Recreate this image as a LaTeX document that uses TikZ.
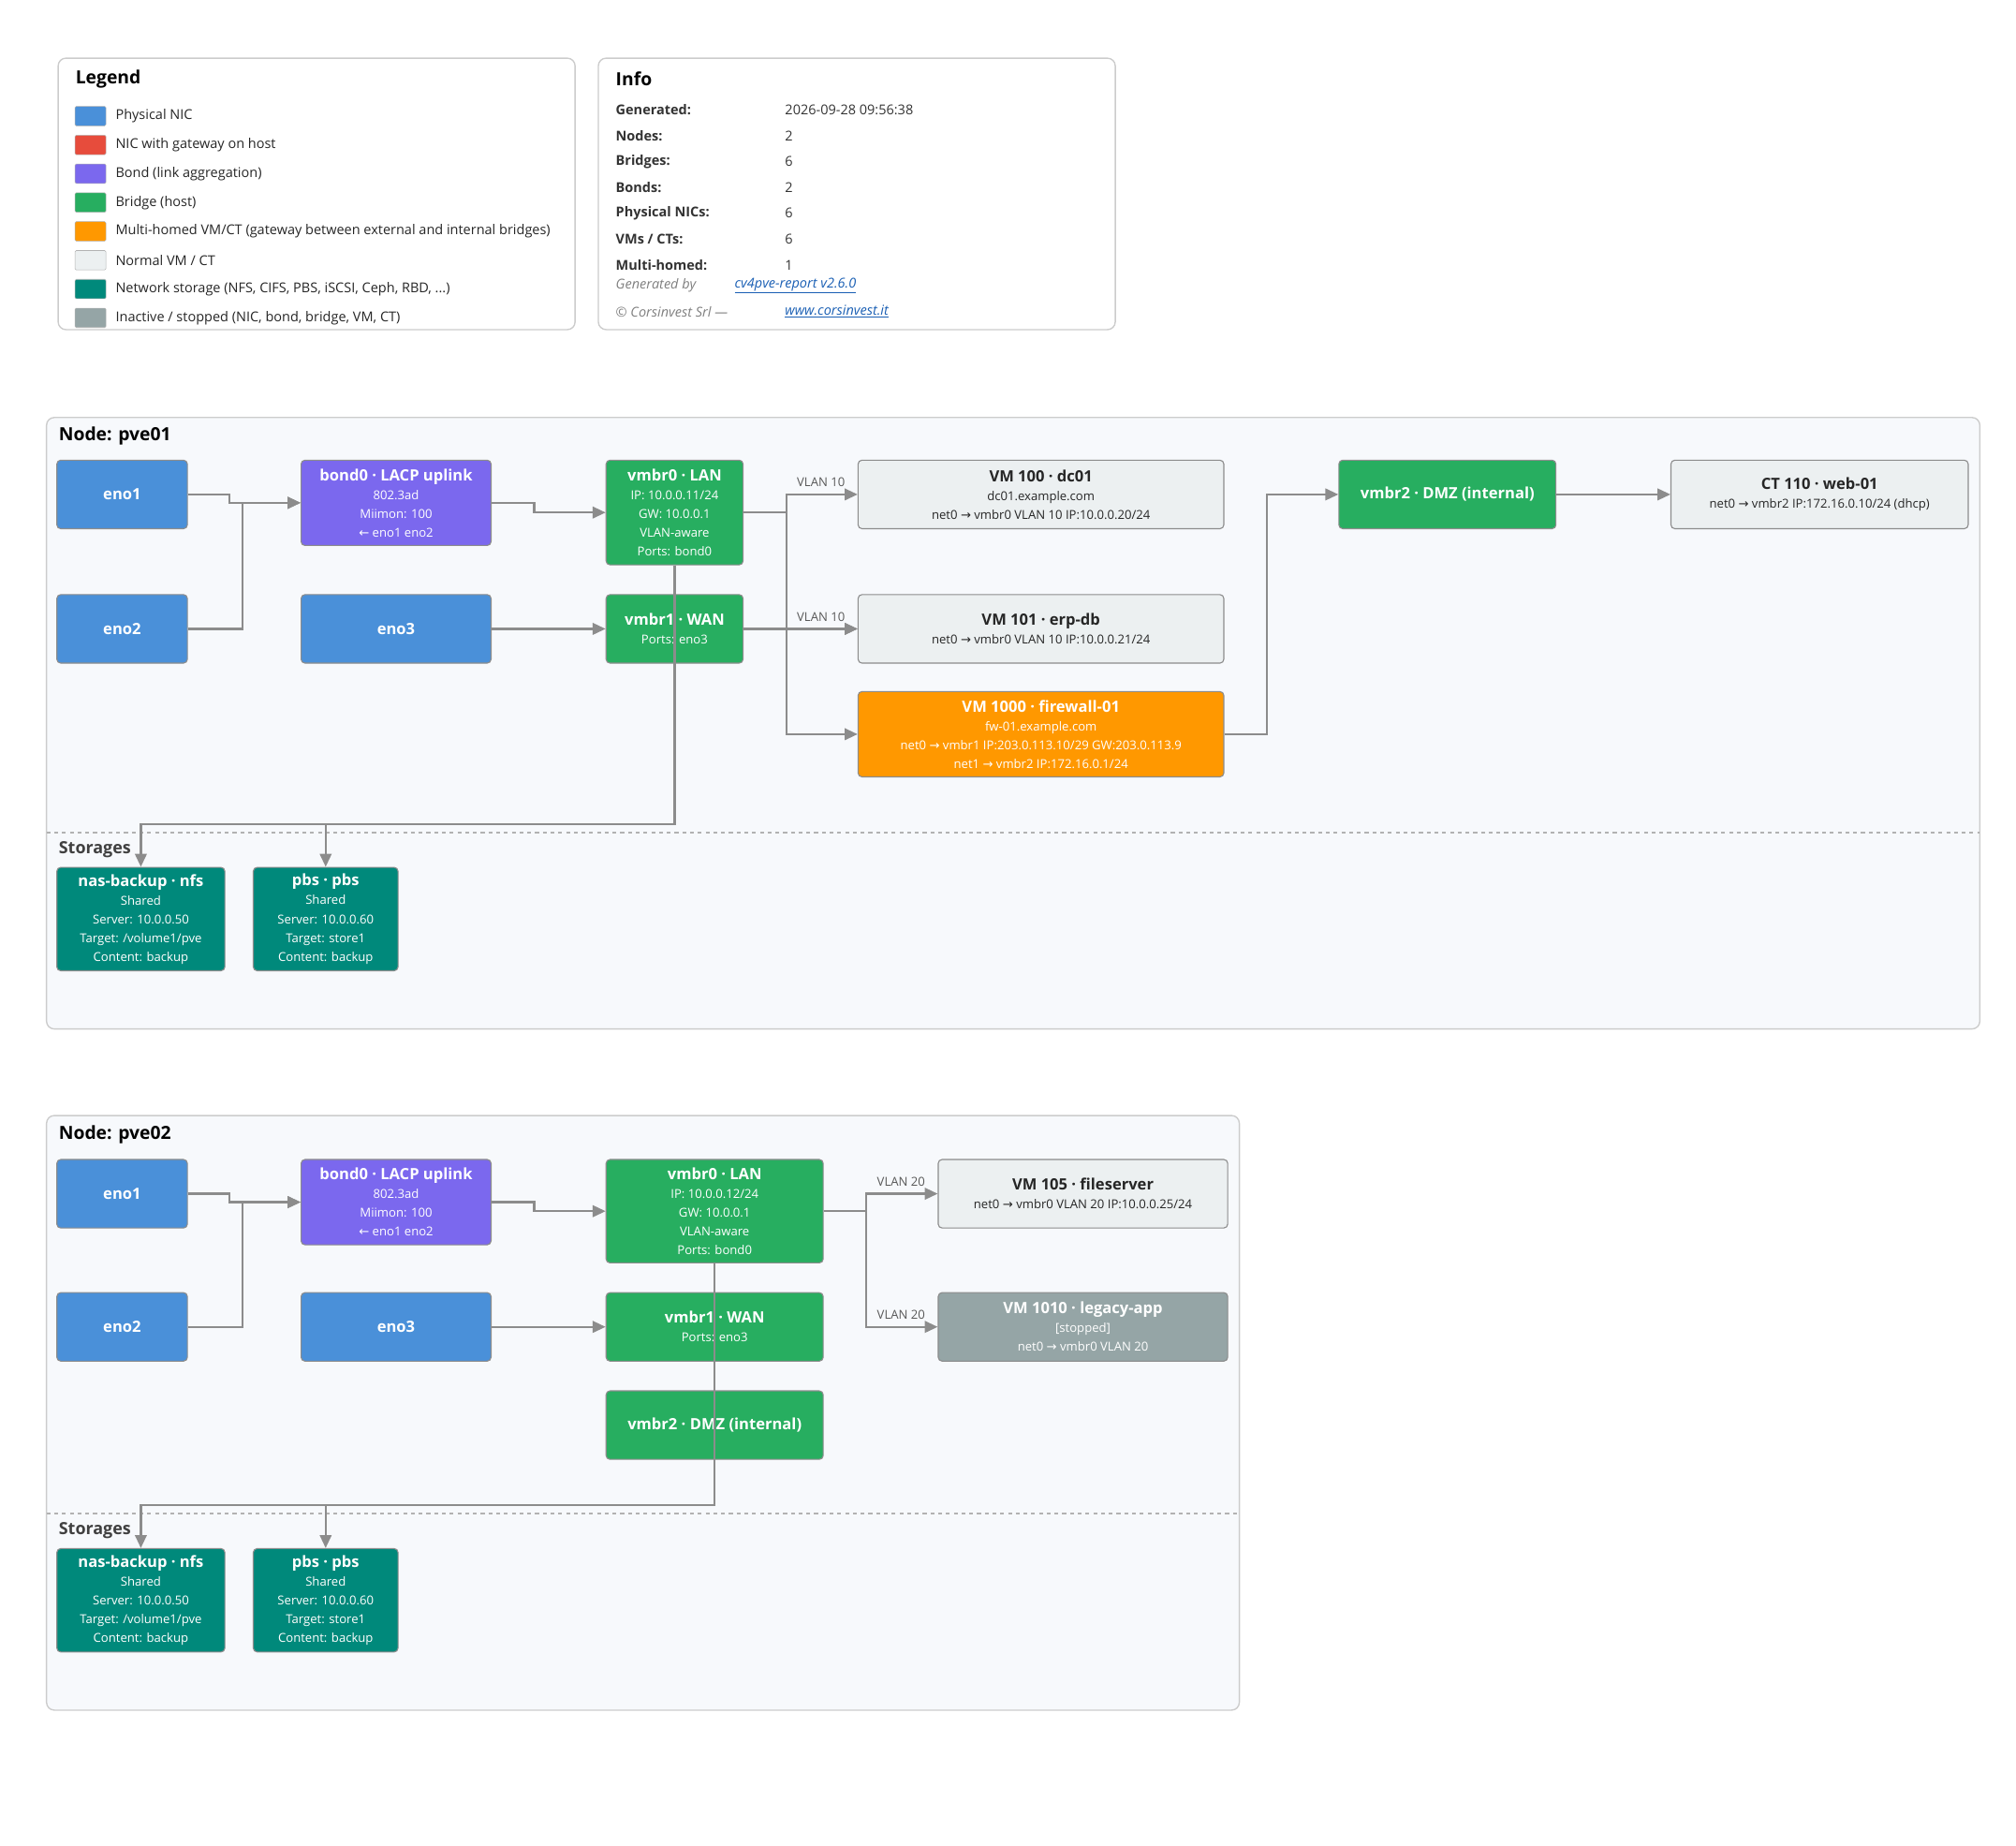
\documentclass[tikz,border=0pt]{standalone}
\usepackage{fontspec}
\setmainfont{Open Sans}
\newfontfamily\symfont{DejaVu Sans}
\usetikzlibrary{arrows.meta}
\definecolor{nicblue}{HTML}{4A90D9}
\definecolor{gwred}{HTML}{E74C3C}
\definecolor{bondpurple}{HTML}{7B68EE}
\definecolor{brgreen}{HTML}{27AE60}
\definecolor{multiorange}{HTML}{FF9800}
\definecolor{vmlight}{HTML}{ECF0F1}
\definecolor{storteal}{HTML}{00897B}
\definecolor{offgray}{HTML}{95A5A6}
\definecolor{panelbg}{HTML}{F7F9FC}
\definecolor{linkblue}{HTML}{1A5FB4}
\newcommand{\boxtitle}{\fontsize{12}{14.5}\selectfont\bfseries}
\newcommand{\boxsmall}{\fontsize{9.5}{14.5}\selectfont\mdseries}
\newcommand{\ra}{{\symfont →}}
\newcommand{\la}{{\symfont ←}}
\tikzset{
	box/.style={rectangle, rounded corners=3pt, draw=black!45, line width=0.8pt, align=center, inner sep=2pt, text=white, font=\fontsize{9.5}{14.5}\selectfont},
	nic/.style={box, fill=nicblue, minimum width=101, minimum height=53},
	bond/.style={box, fill=bondpurple, minimum width=147, minimum height=66},
	bridge/.style={box, fill=brgreen},
	vm/.style={box, fill=vmlight, text=black!85},
	multi/.style={box, fill=multiorange},
	stopped/.style={box, fill=offgray},
	store/.style={box, fill=storteal, minimum height=80},
	panel/.style={rounded corners=6pt, draw=black!20, line width=1pt, fill=panelbg},
	card/.style={rounded corners=6pt, draw=black!20, line width=1pt, fill=white},
	link/.style={draw=black!45, line width=1.6pt, -{Triangle[length=10pt,width=9pt]}},
	vlan/.style={font=\fontsize{9.5}{12}\selectfont, text=black!65, anchor=south east, inner sep=1pt, xshift=-8pt, yshift=4pt},
	swatch/.style={rounded corners=1pt, draw=black!30, minimum width=24, minimum height=15, inner sep=0pt},
}
\begin{document}
\begin{tikzpicture}[x=1pt, y=-1pt]
	\useasboundingbox (0,0) rectangle (1560,1428);
	
	% legend
	\draw[card] (45,45) rectangle (445,255);
	\node[anchor=west, font=\fontsize{14}{16}\selectfont\bfseries] (legtitle) at (55,61) {Legend};
	\foreach \col/\txt [count=\i] in {nicblue/{Physical NIC}, gwred/{NIC with gateway on host}, bondpurple/{Bond (link aggregation)}, brgreen/{Bridge (host)}, multiorange/{Multi-homed VM/CT (gateway between external and internal bridges)}, vmlight/{Normal VM / CT}, storteal/{Network storage (NFS, CIFS, PBS, iSCSI, Ceph, RBD, ...)}, offgray/{Inactive / stopped (NIC, bond, bridge, VM, CT)}} {
		\node[swatch, fill=\col] (sw\i) at (70,67.5+22.3*\i) {};
		\node[anchor=west, font=\fontsize{10.5}{13}\selectfont, text=black!85] (lt\i) at (86,67.5+22.3*\i) {\txt};
	}
	
	% info
	\draw[card] (463,45) rectangle (863,255);
	\node[anchor=west, font=\fontsize{14}{16}\selectfont\bfseries] (infotitle) at (473,61) {Info};
	\foreach \lab/\val [count=\i] in {{Generated:}/{2026-09-28 09:56:38}, {Nodes:}/2, {Bridges:}/6, {Bonds:}/2, {Physical NICs:}/6, {VMs / CTs:}/6, {Multi-homed:}/1} {
		\node[anchor=west, font=\fontsize{10.5}{13}\selectfont\bfseries, text=black!80] (il\i) at (473,65+20*\i) {\lab};
		\node[anchor=west, font=\fontsize{10.5}{13}\selectfont, text=black!80] (iv\i) at (604,65+20*\i) {\val};
	}
	\node[anchor=west, font=\fontsize{10.5}{13}\selectfont\itshape, text=black!50] (genby) at (473,221) {Generated by};
	\node[anchor=west, font=\fontsize{10.5}{13}\selectfont\itshape, text=linkblue] (genlink) at (565,221) {\underline{cv4pve-report v2.6.0}};
	\node[anchor=west, font=\fontsize{10.5}{13}\selectfont\itshape, text=black!50] (copy) at (473,241) {© Corsinvest Srl —};
	\node[anchor=west, font=\fontsize{10.5}{13}\selectfont\itshape, text=linkblue] (weblink) at (604,241) {\underline{www.corsinvest.it}};
	
	% node pve01
	\draw[panel] (36,323) rectangle (1532,796);
	\node[anchor=west, font=\fontsize{14}{16}\selectfont\bfseries] (pveA) at (42,337) {Node: pve01};
	\draw[black!30, dashed, line width=1pt] (36,644) -- (1532,644);
	\node[anchor=west, font=\fontsize{13}{15}\selectfont\bfseries, text=black!75] (storA) at (42,657) {Storages};
	
	\node[nic] (eno1a) at (94.5,382.5) {\boxtitle eno1};
	\node[nic] (eno2a) at (94.5,486.5) {\boxtitle eno2};
	\node[bond] (bond0a) at (306.5,389) {\boxtitle bond0 · LACP uplink\\\boxsmall 802.3ad\\\boxsmall Miimon: 100\\\boxsmall \la{} eno1 eno2};
	\node[nic, minimum width=147] (eno3a) at (306.5,486.5) {\boxtitle eno3};
	\node[bridge, minimum width=106, minimum height=81] (vmbr0a) at (522,396.5) {\boxtitle vmbr0 · LAN\\\boxsmall IP: 10.0.0.11/24\\\boxsmall GW: 10.0.0.1\\\boxsmall VLAN-aware\\\boxsmall Ports: bond0};
	\node[bridge, minimum width=106, minimum height=53] (vmbr1a) at (522,486.5) {\boxtitle vmbr1 · WAN\\\boxsmall Ports: eno3};
	\node[vm, minimum width=283, minimum height=53] (vm100) at (805.5,382.5) {\boxtitle VM 100 · dc01\\\boxsmall dc01.example.com\\\boxsmall net0 \ra{} vmbr0 VLAN 10 IP:10.0.0.20/24};
	\node[vm, minimum width=283, minimum height=53] (vm101) at (805.5,486.5) {\boxtitle VM 101 · erp-db\\\boxsmall net0 \ra{} vmbr0 VLAN 10 IP:10.0.0.21/24};
	\node[multi, minimum width=283, minimum height=66] (vm1000) at (805.5,568) {\boxtitle VM 1000 · firewall-01\\\boxsmall fw-01.example.com\\\boxsmall net0 \ra{} vmbr1 IP:203.0.113.10/29 GW:203.0.113.9\\\boxsmall net1 \ra{} vmbr2 IP:172.16.0.1/24};
	\node[bridge, minimum width=168, minimum height=53] (vmbr2a) at (1120,382.5) {\boxtitle vmbr2 · DMZ (internal)};
	\node[vm, minimum width=230, minimum height=53] (ct110) at (1408,382.5) {\boxtitle CT 110 · web-01\\\boxsmall net0 \ra{} vmbr2 IP:172.16.0.10/24 (dhcp)};
	\node[store, minimum width=130] (nasa) at (109,711) {\boxtitle nas-backup · nfs\\\boxsmall Shared\\\boxsmall Server: 10.0.0.50\\\boxsmall Target: /volume1/pve\\\boxsmall Content: backup};
	\node[store, minimum width=112] (pbsa) at (252,711) {\boxtitle pbs · pbs\\\boxsmall Shared\\\boxsmall Server: 10.0.0.60\\\boxsmall Target: store1\\\boxsmall Content: backup};
	
	\draw[link] (eno1a.east) -- ++(32,0) |- (bond0a.west);
	\draw[link] (eno2a.east) -- ++(42,0) |- (bond0a.west);
	\draw[link] (bond0a.east) -- ++(33,0) |- (vmbr0a.west);
	\draw[link] (eno3a) -- (vmbr1a);
	\draw[link] (vmbr0a.east) -- ++(33,0) |- (vm100.west) node[vlan] {VLAN 10};
	\draw[link] (vmbr0a.east) -- ++(33,0) |- (vm101.west);
	\draw[link] (vmbr1a.east) -- (vm101.west) node[vlan] {VLAN 10};
	\draw[link] (vmbr1a.east) -- ++(33,0) |- (vm1000.west);
	\draw[link] (vm1000.east) -- ++(33,0) |- (vmbr2a.west);
	\draw[link] (vmbr2a) -- (ct110);
	\draw[link] (vmbr0a.south) -- ++(0,200) -| (nasa.north);
	\draw[link] (vmbr0a.south) -- ++(0,200) -| (pbsa.north);
	
	% node pve02
	\draw[panel] (36,863) rectangle (959,1323);
	\node[anchor=west, font=\fontsize{14}{16}\selectfont\bfseries] (pveB) at (42,878) {Node: pve02};
	\draw[black!30, dashed, line width=1pt] (36,1171) -- (959,1171);
	\node[anchor=west, font=\fontsize{13}{15}\selectfont\bfseries, text=black!75] (storB) at (42,1184) {Storages};
	
	\node[nic] (eno1b) at (94.5,923.5) {\boxtitle eno1};
	\node[nic] (eno2b) at (94.5,1026.5) {\boxtitle eno2};
	\node[bond] (bond0b) at (306.5,930) {\boxtitle bond0 · LACP uplink\\\boxsmall 802.3ad\\\boxsmall Miimon: 100\\\boxsmall \la{} eno1 eno2};
	\node[nic, minimum width=147] (eno3b) at (306.5,1026.5) {\boxtitle eno3};
	\node[bridge, minimum width=168, minimum height=80] (vmbr0b) at (553,937) {\boxtitle vmbr0 · LAN\\\boxsmall IP: 10.0.0.12/24\\\boxsmall GW: 10.0.0.1\\\boxsmall VLAN-aware\\\boxsmall Ports: bond0};
	\node[bridge, minimum width=168, minimum height=53] (vmbr1b) at (553,1026.5) {\boxtitle vmbr1 · WAN\\\boxsmall Ports: eno3};
	\node[bridge, minimum width=168, minimum height=53] (vmbr2b) at (553,1102.5) {\boxtitle vmbr2 · DMZ (internal)};
	\node[vm, minimum width=224, minimum height=53] (vm105) at (838,923.5) {\boxtitle VM 105 · fileserver\\\boxsmall net0 \ra{} vmbr0 VLAN 20 IP:10.0.0.25/24};
	\node[stopped, minimum width=224, minimum height=53] (vm1010) at (838,1026.5) {\boxtitle VM 1010 · legacy-app\\\boxsmall [stopped]\\\boxsmall net0 \ra{} vmbr0 VLAN 20};
	\node[store, minimum width=130] (nasb) at (109,1238) {\boxtitle nas-backup · nfs\\\boxsmall Shared\\\boxsmall Server: 10.0.0.50\\\boxsmall Target: /volume1/pve\\\boxsmall Content: backup};
	\node[store, minimum width=112] (pbsb) at (252,1238) {\boxtitle pbs · pbs\\\boxsmall Shared\\\boxsmall Server: 10.0.0.60\\\boxsmall Target: store1\\\boxsmall Content: backup};
	
	\draw[link] (eno1b.east) -- ++(32,0) |- (bond0b.west);
	\draw[link] (eno2b.east) -- ++(42,0) |- (bond0b.west);
	\draw[link] (bond0b.east) -- ++(33,0) |- (vmbr0b.west);
	\draw[link] (eno3b) -- (vmbr1b);
	\draw[link] (vmbr0b.east) -- ++(33,0) |- (vm105.west) node[vlan] {VLAN 20};
	\draw[link] (vmbr0b.east) -- ++(33,0) |- (vm1010.west) node[vlan] {VLAN 20};
	\draw[link] (vmbr0b.south) -- ++(0,187) -| (nasb.north);
	\draw[link] (vmbr0b.south) -- ++(0,187) -| (pbsb.north);
	
\end{tikzpicture}
\end{document}
